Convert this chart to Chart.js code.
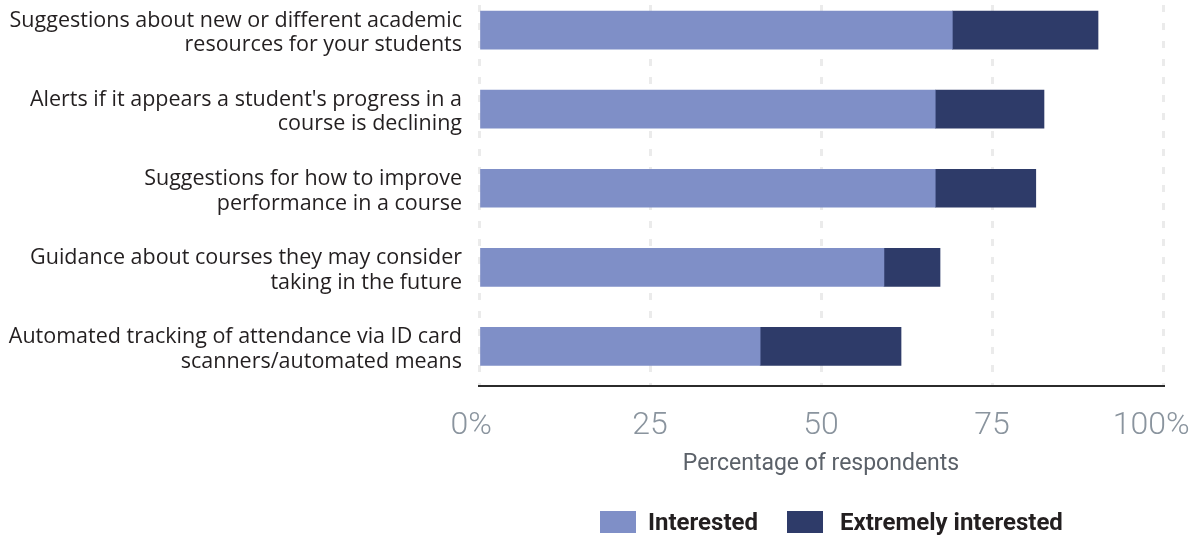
<!DOCTYPE html>
<html>
<head>
<meta charset="utf-8">
<script src="https://cdn.jsdelivr.net/npm/chart.js@4.4.0/dist/chart.umd.min.js"></script>
<style>
  html, body { margin: 0; padding: 0; background: #fff; }
  #wrap { position: relative; width: 1196px; height: 536px; overflow: hidden; }
  #wrap canvas { position: absolute; left: 0; top: -10px; }
  #legenda { position: absolute; left: 600px; top: 508px; display: flex; align-items: center;
             font-family: Roboto, sans-serif; font-weight: 700; font-size: 24px; color: #231f20; }
  .caixa { width: 36px; height: 22px; display: inline-block; }
</style>
</head>
<body>
<div id="wrap">
  <canvas id="grafico" width="1196" height="546"></canvas>
  <div id="legenda"></div>
</div>
<script>
// Dados do gráfico
const categorias = [
    ['Suggestions about new or different academic', 'resources for your students'],
    ["Alerts if it appears a student's progress in a", 'course is declining'],
    ['Suggestions for how to improve', 'performance in a course'],
    ['Guidance about courses they may consider', 'taking in the future'],
    ['Automated tracking of attendance via ID card', 'scanners/automated means']
];
const interessado = [69.2, 66.7, 66.7, 59.2, 41.1];
const extremamente = [21.3, 15.9, 14.7, 8.2, 20.6];
const ticksX = [0, 25, 50, 75, 100];
// espaços no fim puxam os rótulos das pontas um pouco para a esquerda
const rotulosX = ['0%  ', '25', '50', '75', '100%   '];
const nomesSeries = ['Interested', 'Extremely interested'];
const cores = ['#7f8fc7', '#2e3b69'];

// Legenda em HTML
const legenda = document.getElementById('legenda');
nomesSeries.forEach((nome, i) => {
    const caixa = document.createElement('span');
    caixa.className = 'caixa';
    caixa.style.background = cores[i];
    caixa.style.marginLeft = i === 0 ? '0' : '29px';
    const texto = document.createElement('span');
    texto.textContent = nome;
    texto.style.marginLeft = i === 0 ? '12px' : '17px';
    legenda.appendChild(caixa);
    legenda.appendChild(texto);
});

const ctx = document.getElementById('grafico');
new Chart(ctx, {
    type: 'bar',
    data: {
        labels: categorias,
        datasets: [
            { label: nomesSeries[0], data: interessado, backgroundColor: cores[0], barThickness: 38 },
            { label: nomesSeries[1], data: extremamente, backgroundColor: cores[1], barThickness: 38 }
        ]
    },
    options: {
        indexAxis: 'y',
        responsive: false,
        animation: false,
        layout: { padding: { left: 0, right: 33, top: 0.5, bottom: 58 } },
        plugins: {
            legend: { display: false },
            tooltip: { enabled: false }
        },
        scales: {
            x: {
                stacked: true,
                min: 0,
                max: 100,
                afterFit: function(scale) {
                    scale.height = 92;
                    scale.paddingLeft = 0;
                    scale.paddingRight = 0;
                },
                ticks: {
                    stepSize: 25,
                    autoSkip: false,
                    maxRotation: 0,
                    padding: 21,
                    color: '#8a949e',
                    font: { family: 'Roboto', size: 32, weight: 300 },
                    callback: function(value) {
                        return rotulosX[ticksX.indexOf(value)];
                    }
                },
                grid: { color: '#ebebeb', lineWidth: 3, drawTicks: false },
                border: { display: true, color: '#2b2b2b', width: 2, dash: [7, 11], dashOffset: 3.5 },
                title: {
                    display: true,
                    text: 'Percentage of respondents',
                    color: '#5b6169',
                    font: { family: 'Roboto', size: 23 },
                    padding: 0
                }
            },
            y: {
                stacked: true,
                afterFit: function(scale) {
                    scale.width = 479;
                    scale.paddingTop = 0;
                    scale.paddingBottom = 0;
                },
                ticks: {
                    padding: 17,
                    labelOffset: 3,
                    color: '#231f20',
                    font: { family: 'Open Sans', size: 21.5, lineHeight: 1.13 }
                },
                grid: { display: false, drawTicks: false },
                border: { display: false }
            }
        }
    }
});
</script>
</body>
</html>
